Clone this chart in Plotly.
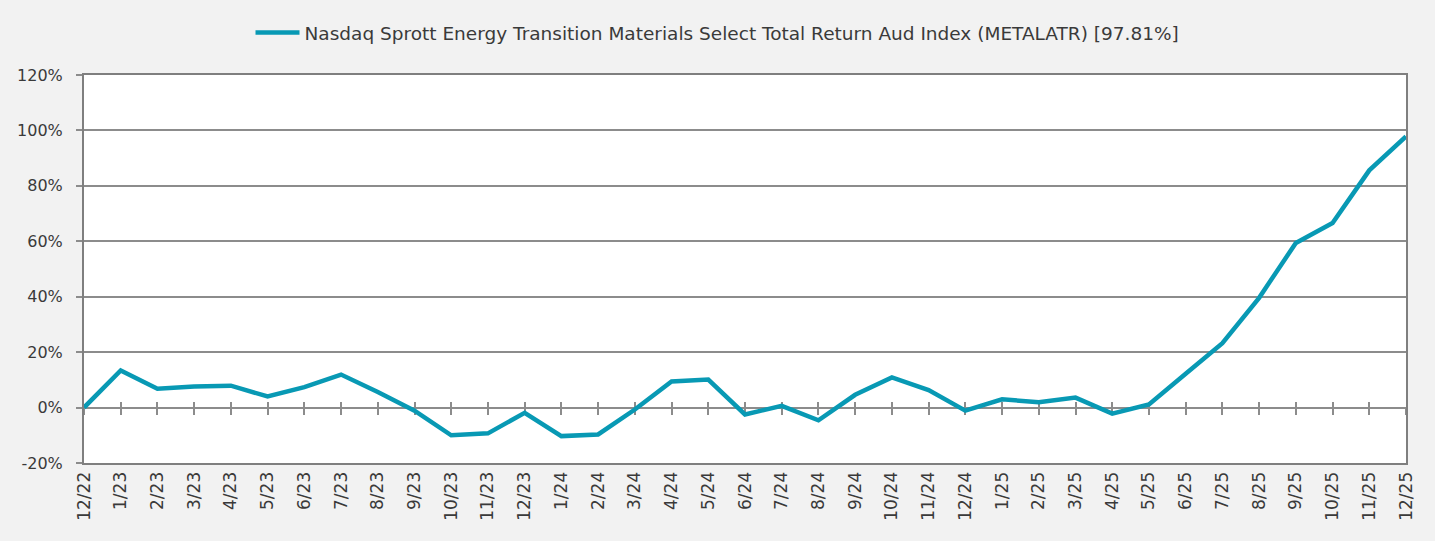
import plotly.graph_objects as go

months = ["12/22", "1/23", "2/23", "3/23", "4/23", "5/23", "6/23", "7/23", "8/23", "9/23",
          "10/23", "11/23", "12/23", "1/24", "2/24", "3/24", "4/24", "5/24", "6/24", "7/24",
          "8/24", "9/24", "10/24", "11/24", "12/24", "1/25", "2/25", "3/25", "4/25", "5/25",
          "6/25", "7/25", "8/25", "9/25", "10/25", "11/25", "12/25"]
returns_pct = [0.0, 13.4, 6.8, 7.6, 7.9, 4.0, 7.4, 11.9, 5.6, -1.1,
               -10.0, -9.3, -1.9, -10.3, -9.7, -0.7, 9.4, 10.1, -2.5, 0.6,
               -4.6, 4.6, 10.9, 6.3, -1.1, 3.0, 1.9, 3.6, -2.2, 1.1,
               12.2, 23.2, 39.6, 59.4, 66.6, 85.6, 97.81]
series_name = "Nasdaq Sprott Energy Transition Materials Select Total Return Aud Index (METALATR) [97.81%]"
y_ticks = [-20, 0, 20, 40, 60, 80, 100, 120]
y_tick_text = ["-20%", "0%", "20%", "40%", "60%", "80%", "100%", "120%"]

LINE = "#0899b4"
GRID = "#8c8c8c"
BORDER = "#7f7f7f"
TEXT = "#3a3a3a"
FONT = "DejaVu Sans"
FS = 16

fig = go.Figure()
fig.add_trace(go.Scatter(x=months, y=returns_pct, mode="lines", name=series_name,
                         line=dict(color=LINE, width=4.5), cliponaxis=False))
# invisible helpers for the crossing tick marks on the zero line
for ax in ("x2", "x3"):
    fig.add_trace(go.Scatter(x=months, y=[None] * len(months), xaxis=ax, yaxis="y",
                             mode="lines", showlegend=False, hoverinfo="skip"))

common_x = dict(type="category", categoryorder="array", categoryarray=months,
                range=[0, len(months) - 1])

fig.update_layout(
    width=1435, height=541,
    paper_bgcolor="#f2f2f2", plot_bgcolor="#ffffff",
    margin=dict(l=84, r=29, t=75, b=78),
    font=dict(family=FONT, color=TEXT, size=FS),
    showlegend=True,
    legend=dict(orientation="h", x=0.5, xanchor="center", xref="container",
                y=1 - 33 / 541, yanchor="middle", yref="container",
                font=dict(size=18.5, color=TEXT), bgcolor="rgba(0,0,0,0)", itemwidth=44),
    xaxis=dict(**common_x, showgrid=False, ticks="", tickangle=-90,
               tickfont=dict(size=17, color=TEXT), showline=True, linecolor=BORDER,
               linewidth=2, mirror=True, zeroline=False),
    xaxis2=dict(**common_x, overlaying="x", anchor="free", position=1 / 7,
                showgrid=False, showticklabels=False, ticks="outside", ticklen=6,
                tickwidth=1.5, tickcolor=GRID, showline=True, linecolor=GRID,
                linewidth=2, layer="below traces", zeroline=False),
    xaxis3=dict(**common_x, overlaying="x", anchor="free", position=1 / 7,
                showgrid=False, showticklabels=False, ticks="inside", ticklen=6,
                tickwidth=1.5, tickcolor=GRID, showline=False,
                layer="below traces", zeroline=False),
    yaxis=dict(range=[-20, 120], tickmode="array", tickvals=y_ticks, ticktext=y_tick_text,
               showgrid=True, gridcolor=GRID, gridwidth=1.5, zeroline=False, ticks="outside",
               ticklen=6, tickcolor=GRID, tickwidth=1.5, showline=True, linecolor=BORDER,
               linewidth=2, mirror=True, tickfont=dict(size=FS, color=TEXT),
               ticklabelstandoff=10),
)

fig.write_html("out.html", config={"displayModeBar": False},
               post_script="document.body.style.margin='0';")
